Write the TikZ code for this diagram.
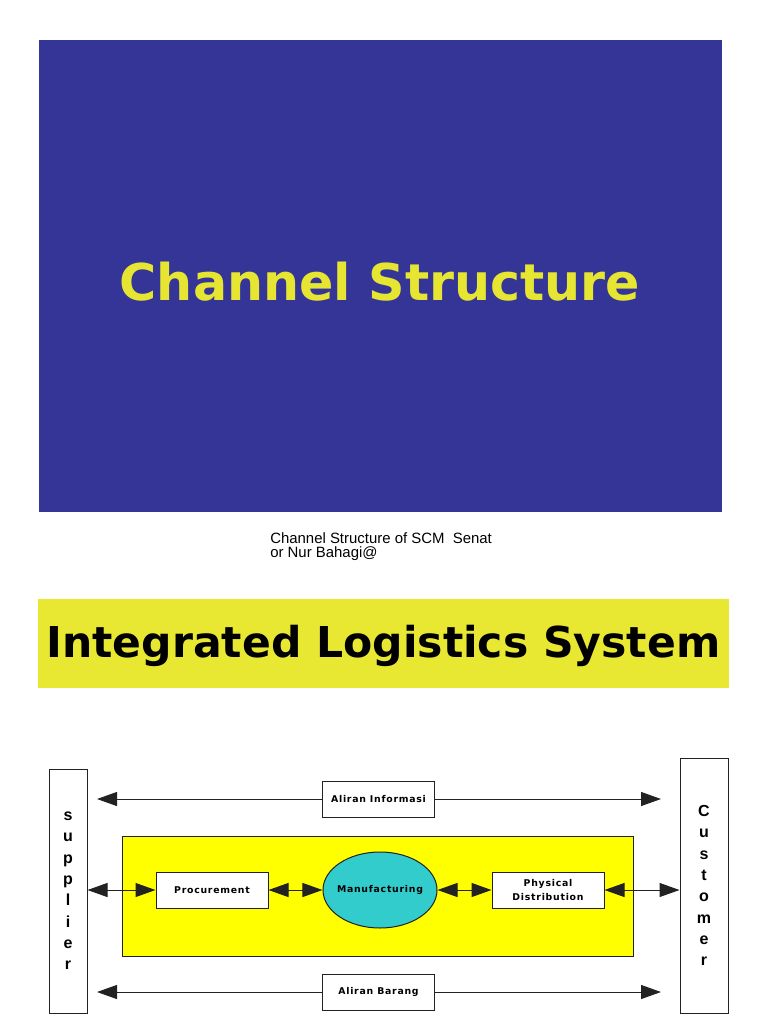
\documentclass[tikz,border=0pt]{standalone}
\usepackage{fontspec}
\setmainfont{DejaVu Sans}
\newfontfamily\capfont{Liberation Sans}
\usetikzlibrary{positioning, shapes.geometric, arrows.meta}
\definecolor{slideblue}{HTML}{353597}
\definecolor{slideyellow}{HTML}{E6E632}
\definecolor{baryellow}{HTML}{E8E833}
\definecolor{coreyellow}{HTML}{FFFF00}
\definecolor{manucyan}{HTML}{33CCCC}
\definecolor{edgegray}{HTML}{222222}

\begin{document}
\begin{tikzpicture}[x=0.75pt, y=-0.75pt, node distance=126pt, on grid,
    box/.style={draw=edgegray, fill=white, line width=0.75pt, inner sep=0pt,
        minimum width=84pt, minimum height=27pt, align=center,
        font=\bfseries\fontsize{7}{10.5}\selectfont\addfontfeature{LetterSpace=8}},
    party/.style={draw=edgegray, fill=white, line width=0.75pt, inner sep=0pt,
        align=center, font=\capfont\bfseries\fontsize{12}{16}\selectfont},
    flow/.style={draw=edgegray, line width=0.75pt, -{Triangle[length=15pt, width=10.5pt]}},
    link/.style={draw=edgegray, line width=0.75pt, {Triangle[length=15pt, width=10.5pt]}-{Triangle[length=15pt, width=10.5pt]}}]
        \useasboundingbox (0,0) rectangle (768,1024);

        % title slide
        \node[fill=slideblue, minimum width=512.25pt, minimum height=354pt, inner sep=0pt] (slide) at (380.5,276) {};
        \node[text=slideyellow, font=\bfseries\fontsize{38}{38}\selectfont] (title) at (380,282) {Channel Structure};
        \node[anchor=north west, inner sep=0pt, align=left, font=\capfont\fontsize{11.2}{10.5}\selectfont] (caption) at (270,532) {Channel Structure of SCM\ \ Senat\\or Nur Bahagi@};

        % heading bar
        \node[fill=baryellow, minimum width=518.25pt, minimum height=66.75pt, inner sep=0pt] (bar) at (383.5,643.5) {};
        \node[font=\bfseries\fontsize{31.9}{31.9}\selectfont] (heading) at (383.5,646) {Integrated Logistics System};

        % diagram
        \node[draw=edgegray, fill=coreyellow, line width=0.75pt, minimum width=383.25pt, minimum height=90pt] (core) at (377.5,896) {};
        \node[party, minimum width=28.5pt, minimum height=183pt] (sup) at (68,891) {s\\u\\p\\p\\l\\i\\e\\r};
        \node[party, minimum width=36pt, minimum height=191.25pt] (cus) at (704,885.5) {C\\u\\s\\t\\o\\m\\e\\r};
        \node[box] (proc) at (212,890) {Procurement};
        \node[box, ellipse, fill=manucyan, inner xsep=-2pt, minimum width=85.5pt, minimum height=57pt, right=of proc] (manu) {Manufacturing};
        \node[box, right=of manu] (dist) {Physical\\Distribution};
        \node[box] (info) at (378.5,799) {Aliran Informasi};
        \node[box] (goods) at (378.5,992) {Aliran Barang};

        \coordinate (infoL) at (97,799);
        \coordinate (infoR) at (661,799);
        \coordinate (goodsL) at (97,992);
        \coordinate (goodsR) at (661,992);

        \path
        (info.west) edge[flow] (infoL)
        (info.east) edge[flow] (infoR)
        (goods.west) edge[flow] (goodsL)
        (goods.east) edge[flow] (goodsR)
        (proc.west -| sup.east) edge[link] (proc.west)
        (proc.east) edge[link] (manu.west)
        (manu.east) edge[link] (dist.west)
        (dist.east) edge[link] (dist.east -| cus.west);
    \end{tikzpicture}
\end{document}
